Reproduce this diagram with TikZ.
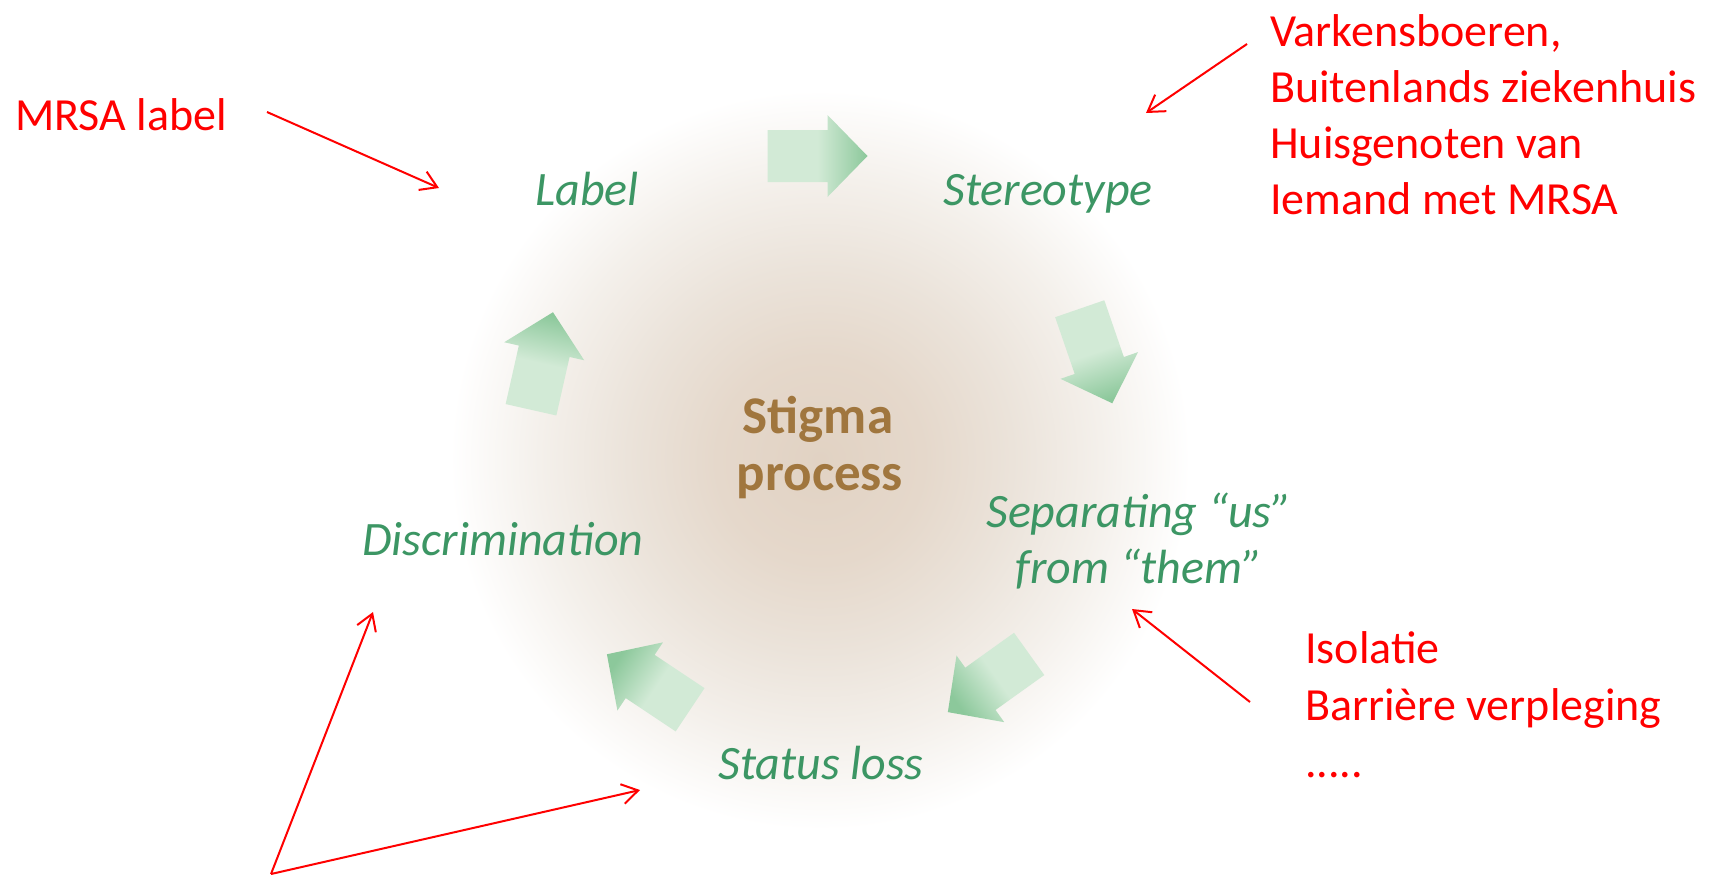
\documentclass[tikz,border=0pt]{standalone}
\usepackage{fontspec}
\setmainfont{Carlito}
\usetikzlibrary{arrows.meta}
\definecolor{redtxt}{RGB}{255,0,0}
\definecolor{greentxt}{RGB}{60,150,100}
\definecolor{browntxt}{RGB}{160,118,62}
\definecolor{arrpale}{RGB}{210,234,214}
\definecolor{arrdark}{RGB}{140,200,155}
\definecolor{glowA}{RGB}{225,210,195}
\definecolor{glowB}{RGB}{229,216,203}
\definecolor{glowC}{RGB}{235,227,218}
\definecolor{glowD}{RGB}{244,240,235}
\pgfdeclareradialshading{glow}{\pgfpoint{0bp}{0bp}}{color(0bp)=(glowA); color(7bp)=(glowB); color(13bp)=(glowC); color(19bp)=(glowD); color(25bp)=(white); color(50bp)=(white)}
\newcommand\blkarrow[3]{%
  \begin{scope}[shift={(#1)},rotate=#2]
    \shade[blockarrowshade, shading angle=#3] (-50,-26) -- (10,-26) -- (10,-41) -- (50,0) -- (10,41) -- (10,26) -- (-50,26) -- cycle;
  \end{scope}}
\begin{document}
\begin{tikzpicture}[x=1pt,y=-1pt,
  redlbl/.style={text=redtxt, font=\fontsize{46}{57}\selectfont, inner sep=0pt, anchor=base west},
  stage/.style={text=greentxt, font=\itshape\fontsize{48}{56}\selectfont, inner sep=0pt, anchor=base},
  core/.style={text=browntxt, font=\bfseries\fontsize{53}{57}\selectfont, inner sep=0pt, anchor=base},
  redarrow/.style={draw=redtxt, line width=2pt, -{Straight Barb[length=16pt,width=20pt]}},
  blockarrowshade/.style={shading=axis, bottom color=arrpale, top color=arrdark, middle color=arrpale}
]
\path[use as bounding box, fill=white] (0,0) rectangle (1720,876);
\begin{scope}
  \clip (0,0) rectangle (1720,876);
  \shade[shading=glow] (820,460) circle (370);
\end{scope}

% block arrows
\blkarrow{817.5,156}{0}{-90}
\blkarrow{1096,356}{-71}{-161}
\blkarrow{988.5,683}{-144.4}{125.6}
\blkarrow{648.5,682}{146.3}{56.3}
\blkarrow{542,361}{77.3}{-12.7}

% stage labels
\node[stage] (label) at (587,205) {Label};
\node[stage] (stereo) at (1048,205) {Stereotype};
\node[stage] (sep1) at (1139,527) {Separating “us”};
\node[stage] (sep2) at (1139,583) {from “them”};
\node[stage] (status) at (821,779) {Status loss};
\node[stage] (discr) at (503,555) {Discrimination};
\node[core] (stigma) at (818,433) {Stigma};
\node[core] (process) at (820,490) {process};

% red annotations
\node[redlbl] (mrsa) at (15,130) {MRSA label};
\node[redlbl] (v1) at (1270,46) {Varkensboeren,};
\node[redlbl] (v2) at (1270,102) {Buitenlands ziekenhuis};
\node[redlbl] (v3) at (1270,158) {Huisgenoten van};
\node[redlbl] (v4) at (1270,214) {Iemand met MRSA};
\node[redlbl] (i1) at (1305,663) {Isolatie};
\node[redlbl] (i2) at (1305,720) {Barrière verpleging};
\node[redlbl] (i3) at (1305,777) {.....};

% red arrows
\coordinate (mrsaS) at (267,112);
\coordinate (mrsaE) at (439,188);
\coordinate (vS) at (1247,44);
\coordinate (vE) at (1146,113);
\coordinate (iS) at (1250,702);
\coordinate (iE) at (1132,609);
\coordinate (bS) at (271,874);
\coordinate (bE1) at (373,612);
\coordinate (bE2) at (640,790);
\draw[redarrow] (mrsaS) -- (mrsaE);
\draw[redarrow] (vS) -- (vE);
\draw[redarrow] (iS) -- (iE);
\draw[redarrow] (bS) -- (bE1);
\draw[redarrow] (bS) -- (bE2);
\end{tikzpicture}
\end{document}
